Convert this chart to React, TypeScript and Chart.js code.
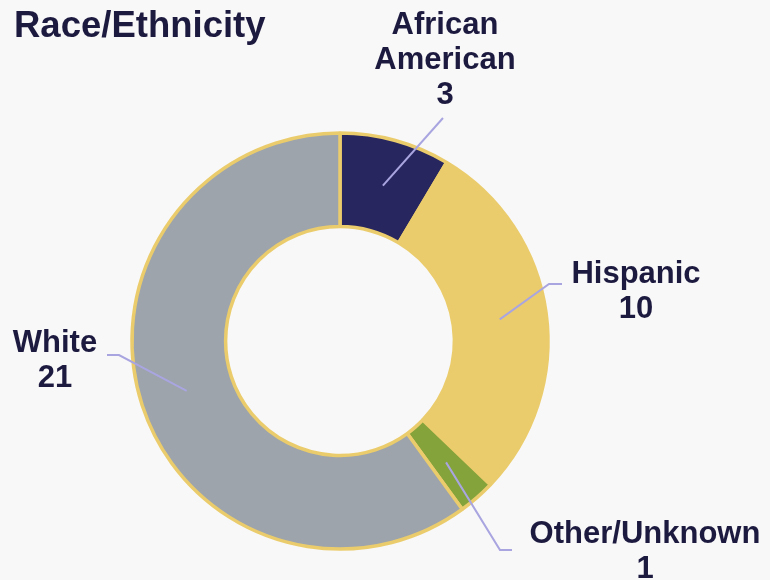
import React, { useEffect, useRef } from "react";
import { Chart, registerables } from "chart.js";

Chart.register(...registerables);

const categories = ["African American", "Hispanic", "Other/Unknown", "White"];
const values = [3, 10, 1, 21];
const sliceColors = ["#28265F", "#EBCC6C", "#84A33B", "#9DA4AB"];
const title = "Race/Ethnicity";

// label layout: text center x, first baseline y, leader path points (after the arc centre)
const labelLayout = [
  { lines: ["African", "American", "3"], x: 445, y: 34, path: [[443, 118]] },
  { lines: ["Hispanic", "10"], x: 636, y: 283, path: [[549, 284], [562, 284]] },
  { lines: ["Other/Unknown", "1"], x: 645, y: 543, path: [[500, 550], [512, 550]] },
  { lines: ["White", "21"], x: 55, y: 352, path: [[119, 355], [107, 355]] },
];

const FONT = '"Liberation Sans", Arial, sans-serif';
const TEXT = "#1D1A40";

const labelPlugin = {
  id: "labelsPlugin",
  afterDraw(chart: any) {
    const ctx = chart.ctx;
    const meta = chart.getDatasetMeta(0);
    ctx.save();
    ctx.fillStyle = TEXT;
    ctx.font = `bold 36.5px ${FONT}`;
    ctx.textAlign = "left";
    ctx.textBaseline = "alphabetic";
    ctx.fillText(title, 14, 37);
    meta.data.forEach((arc: any, i: number) => {
      const lay = labelLayout[i];
      const c = arc.getCenterPoint();
      ctx.strokeStyle = "#A9A5E0";
      ctx.lineWidth = 2;
      ctx.beginPath();
      ctx.moveTo(c.x, c.y);
      lay.path.forEach((p) => ctx.lineTo(p[0], p[1]));
      ctx.stroke();
      ctx.fillStyle = TEXT;
      ctx.font = `bold 31px ${FONT}`;
      ctx.textAlign = "center";
      lay.lines.forEach((t, k) => ctx.fillText(t, lay.x, lay.y + k * 35));
    });
    ctx.restore();
  },
};

export default function App() {
  const ref = useRef<HTMLCanvasElement>(null);
  useEffect(() => {
    const chart = new Chart(ref.current!, {
      type: "doughnut",
      data: {
        labels: categories,
        datasets: [
          {
            data: values,
            backgroundColor: sliceColors,
            borderColor: "#EBCC6C",
            borderWidth: 3.5,
          },
        ],
      },
      options: {
        animation: false,
        responsive: false,
        radius: 208,
        cutout: "55%",
        layout: { padding: { left: 0, right: 90, top: 102, bottom: 0 } },
        plugins: {
          legend: { display: false },
          tooltip: { enabled: false },
          title: { display: false },
        },
      },
      plugins: [labelPlugin],
    });
    return () => chart.destroy();
  }, []);
  return (
    <div style={{ position: "fixed", left: 0, top: 0, width: 770, height: 580, background: "#F8F8F8" }}>
      <canvas ref={ref} width={770} height={580} />
    </div>
  );
}
